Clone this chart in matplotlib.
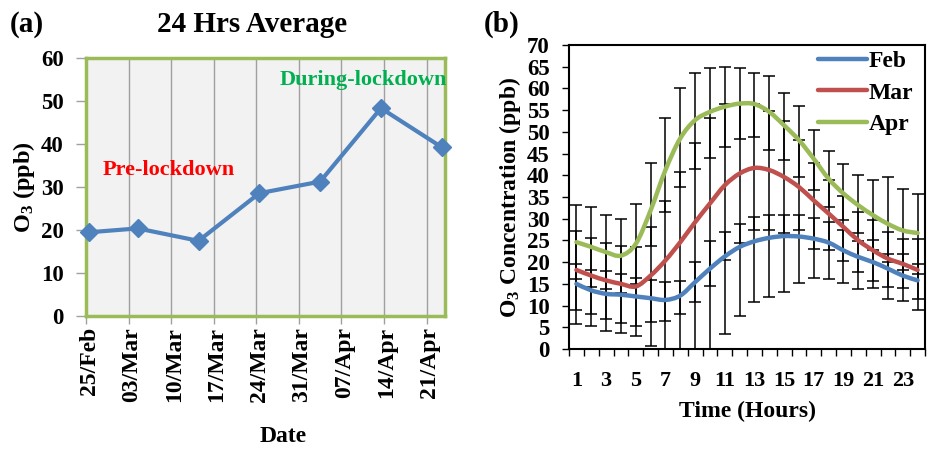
import numpy as np
import pandas as pd
import matplotlib
matplotlib.use("Agg")
import matplotlib.pyplot as plt
import matplotlib.dates as mdates
import matplotlib.transforms as mtransforms
from matplotlib.path import Path
from matplotlib.patches import PathPatch
from matplotlib.lines import Line2D

plt.rcParams['font.family'] = ['Liberation Serif', 'DejaVu Serif']
plt.rcParams['font.weight'] = 'bold'
plt.rcParams['mathtext.fontset'] = 'custom'
plt.rcParams['mathtext.rm'] = 'Liberation Serif:bold'
plt.rcParams['mathtext.it'] = 'Liberation Serif:bold'
plt.rcParams['mathtext.bf'] = 'Liberation Serif:bold'

# ---------------- Panel (a) data ----------------
avg_dates = ['2020-02-25 12:00', '2020-03-04 12:00', '2020-03-14 12:00', '2020-03-24 12:00',
             '2020-04-03 12:00', '2020-04-13 12:00', '2020-04-23 12:00']
avg_o3 = [19.5, 20.4, 17.5, 28.6, 31.3, 48.4, 39.3]
date_ticks = ['2020-02-25', '2020-03-03', '2020-03-10', '2020-03-17', '2020-03-24',
              '2020-03-31', '2020-04-07', '2020-04-14', '2020-04-21']

# ---------------- Panel (b) data ----------------
hours = list(range(1, 25))
feb = [15.0, 13.5, 12.7, 12.5, 12.1, 11.7, 11.3, 12.3, 15.4, 18.5, 21.3, 23.5,
       24.8, 25.6, 26.0, 25.9, 25.4, 24.5, 22.7, 21.2, 20.0, 18.5, 16.9, 15.8]
mar = [18.2, 16.9, 15.8, 15.0, 14.4, 16.9, 20.4, 24.6, 29.2, 33.5, 37.7, 40.4,
       41.7, 41.2, 39.6, 37.3, 34.2, 31.2, 28.1, 25.0, 22.7, 20.8, 19.6, 18.2]
apr = [24.6, 23.5, 22.3, 21.5, 24.2, 31.9, 41.2, 48.5, 52.7, 54.6, 55.8, 56.5,
       56.4, 54.6, 51.5, 48.1, 43.8, 39.2, 35.8, 33.1, 30.8, 28.8, 27.3, 26.7]
# error bar ends (absolute values)
feb_hi = [19.5, 18.1, 17.9, 17.3, 16.3, 15.9, 15.4, 15.6, 20.0, 24.8, 26.9, 28.8,
          30.4, 30.8, 30.8, 30.8, 30.2, 29.2, 27.3, 24.8, 25.0, 21.9, 21.9, 19.6]
feb_lo = [5.8, 5.2, 4.2, 3.6, 3.1, 0.8, -3.0, -5.0, -5.0, -3.0, 3.5, 7.7,
          10.8, 11.9, 13.1, 15.2, 16.3, 16.2, 15.2, 13.8, 14.0, 11.5, 11.0, 9.0]
mar_hi = [27.1, 25.5, 24.5, 23.8, 23.6, 28.1, 34.1, 40.8, 47.5, 53.1, 56.5, 56.4,
          56.4, 54.8, 52.5, 48.2, 42.8, 38.8, 35.2, 31.5, 29.6, 26.9, 25.4, 25.4]
mar_lo = [9.0, 8.1, 6.9, 5.9, 5.4, 6.2, 6.5, 8.1, 10.8, 14.4, 20.4, 24.4,
          27.5, 27.3, 26.7, 27.3, 23.1, 22.7, 20.2, 17.7, 15.6, 14.2, 14.1, 11.5]
apr_hi = [33.2, 32.8, 30.8, 30.0, 33.5, 42.8, 53.3, 60.2, 63.6, 64.6, 65.0, 64.6,
          63.5, 62.8, 59.0, 55.9, 50.5, 45.7, 42.5, 40.0, 39.0, 39.5, 36.8, 35.6]
apr_lo = [16.2, 14.2, 13.8, 13.0, 14.9, 23.8, 31.5, 37.3, 41.5, 44.0, 46.5, 48.3,
          48.8, 45.9, 43.6, 39.6, 36.7, 32.7, 29.6, 26.8, 22.7, 20.0, 18.1, 17.3]
series_names = ['Feb', 'Mar', 'Apr']
series_colors = ['#4F81BD', '#C0504D', '#9BBB59']

fig = plt.figure(figsize=(9.29, 4.49), dpi=100)

# ================= Panel (a) =================
ax1 = fig.add_axes([0.0926, 0.2962, 0.3862, 0.5738])
ax1.set_facecolor('#F2F2F2')
d = pd.to_datetime(avg_dates)
ax1.plot(d, avg_o3, color='#4F81BD', lw=3, marker='D', markersize=9,
         markerfacecolor='#4F81BD', markeredgecolor='#4F81BD', clip_on=False, zorder=5)
ax1.set_xlim(pd.Timestamp('2020-02-25'), pd.Timestamp('2020-04-24'))
ax1.set_ylim(0, 60)
ax1.set_yticks(range(0, 61, 10))
ax1.set_xticks(pd.to_datetime(date_ticks))
ax1.xaxis.set_major_formatter(mdates.DateFormatter('%d/%b'))
ax1.grid(axis='x', color='#A0A0A0', lw=1)
ax1.set_axisbelow(True)
for s in ax1.spines.values():
    s.set_color('#9BBB59')
    s.set_linewidth(2.5)
ax1.tick_params(axis='x', labelrotation=90, labelsize=17, length=6, color='#A0A0A0', width=1, pad=2)
ax1.tick_params(axis='y', labelsize=16.5, length=7, color='#A0A0A0', width=1, pad=9)
off = mtransforms.ScaledTranslation(3 / 100, 0, fig.dpi_scale_trans)
for lab in ax1.get_xticklabels():
    lab.set_transform(lab.get_transform() + off)
ax1.set_ylabel(r'O$_{3}$ (ppb)', fontsize=17.5, fontweight='bold', labelpad=3)
ax1.set_xlabel('Date', fontsize=17, fontweight='bold')
ax1.xaxis.set_label_coords(0.549, -0.425)
fig.text(252 / 929, 1 - 25 / 449, '24 Hrs Average', fontsize=21, fontweight='bold',
         ha='center', va='center')
ax1.text(0.045, 0.568, 'Pre-lockdown', transform=ax1.transAxes, color='#FF0000',
         fontsize=16, fontweight='bold', ha='left', va='center')
ax1.text(1.005, 0.915, 'During-lockdown', transform=ax1.transAxes, color='#00B050',
         fontsize=16, fontweight='bold', ha='right', va='center')
fig.text(0.011, 0.945, '(a)', fontsize=21, fontweight='bold', ha='left', va='center')

# ================= Panel (b) =================
ax2 = fig.add_axes([0.6125, 0.2227, 0.3832, 0.6771])


def smooth_path(x, y):
    pts = np.column_stack([x, y]).astype(float)
    n = len(pts)
    verts = [pts[0]]
    codes = [Path.MOVETO]
    for i in range(n - 1):
        p0 = pts[max(i - 1, 0)]
        p1 = pts[i]
        p2 = pts[i + 1]
        p3 = pts[min(i + 2, n - 1)]
        c1 = p1 + (p2 - p0) / 6.0
        c2 = p2 - (p3 - p1) / 6.0
        verts += [c1, c2, p2]
        codes += [Path.CURVE4] * 3
    return Path(verts, codes)


vals = [feb, mar, apr]
his = [feb_hi, mar_hi, apr_hi]
los = [feb_lo, mar_lo, apr_lo]
handles = []
for v, hi, lo, name, col in zip(vals, his, los, series_names, series_colors):
    v = np.array(v)
    yerr = np.vstack([v - np.array(lo), np.array(hi) - v])
    ax2.errorbar(hours, v, yerr=yerr, fmt='none', ecolor='black', elinewidth=1.1,
                 capsize=4, capthick=1.1, zorder=2)
    patch = PathPatch(smooth_path(hours, v), fill=False, edgecolor=col, lw=3.2,
                      transform=ax2.transData, zorder=3, capstyle='round')
    ax2.add_patch(patch)
    handles.append(Line2D([0], [0], color=col, lw=3.2, solid_capstyle='round', label=name))

ax2.set_xlim(0.5, 24.5)
ax2.set_ylim(0, 70)
ax2.set_yticks(range(0, 71, 5))
ax2.set_xticks(range(1, 25, 2))
ax2.set_xticks(np.arange(0.5, 24.6, 1.0), minor=True)
ax2.tick_params(axis='x', which='major', length=0, labelsize=16, pad=16)
ax2.tick_params(axis='x', which='minor', length=5, width=1, color='black')
ax2.tick_params(axis='y', labelsize=16.5, length=5, width=1, pad=9)
for s in ax2.spines.values():
    s.set_color('black')
    s.set_linewidth(1.5)
ax2.set_ylabel(r'O$_{3}$ Concentration (ppb)', fontsize=17, fontweight='bold', labelpad=3)
ax2.set_xlabel('Time (Hours)', fontsize=17, fontweight='bold', labelpad=7)
leg = ax2.legend(handles=handles, loc='upper right', bbox_to_anchor=(1.0, 1.02),
                 frameon=False, handlelength=2.1, handletextpad=0.05, labelspacing=0.42,
                 borderaxespad=0.1, prop={'weight': 'bold', 'size': 17})
fig.text(0.521, 0.945, '(b)', fontsize=21, fontweight='bold', ha='left', va='center')

fig.savefig('out.png', dpi=100)
